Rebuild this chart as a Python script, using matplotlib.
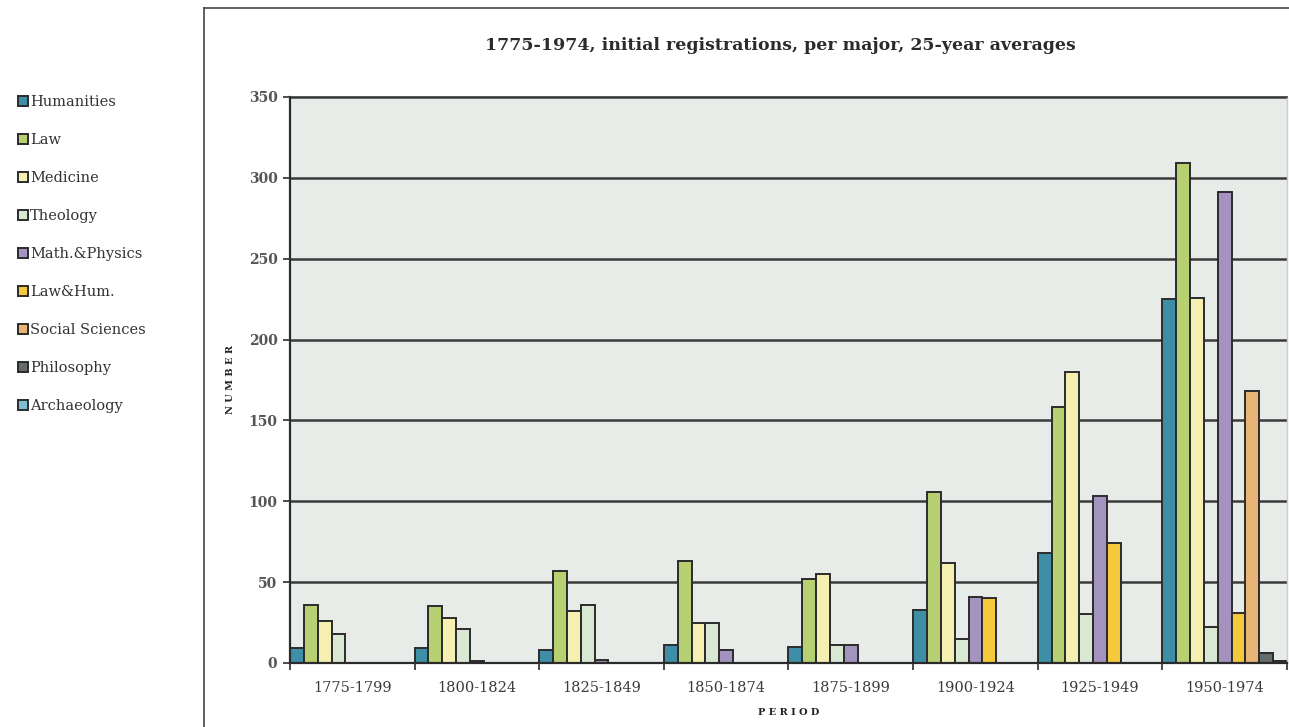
import numpy as np
import matplotlib.pyplot as plt
from matplotlib.lines import Line2D

periods = ["1775-1799", "1800-1824", "1825-1849", "1850-1874",
           "1875-1899", "1900-1924", "1925-1949", "1950-1974"]

majors = ["Humanities", "Law", "Medicine", "Theology", "Math.&Physics",
          "Law&Hum.", "Social Sciences", "Philosophy", "Archaeology"]

# 25-year averages, one list per major (0 = no bar)
humanities  = [9, 9, 8, 11, 10, 33, 68, 225]
law         = [36, 35, 57, 63, 52, 106, 158, 309]
medicine    = [26, 28, 32, 25, 55, 62, 180, 226]
theology    = [18, 21, 36, 25, 11, 15, 30, 22]
math_phys   = [0, 1, 2, 8, 11, 41, 103, 291]
law_hum     = [0, 0, 0, 0, 0, 40, 74, 31]
social_sci  = [0, 0, 0, 0, 0, 0, 0, 168]
philosophy  = [0, 0, 0, 0, 0, 0, 0, 6]
archaeology = [0, 0, 0, 0, 0, 0, 0, 1]

series = [humanities, law, medicine, theology, math_phys,
          law_hum, social_sci, philosophy, archaeology]
colors = ["#3f8ea8", "#b7d072", "#f6efb2", "#d9e8d3", "#a393be",
          "#f5c93c", "#e9b476", "#646c6c", "#7fbed3"]

SERIF = ["DejaVu Serif"]

fig = plt.figure(figsize=(12.89, 7.27), dpi=100)
ax = fig.add_axes([290 / 1289, 1 - 663 / 727, 997 / 1289, 566 / 727])
ax.set_facecolor("#e7ece9")
ax.set_axisbelow(True)

n = len(series)
w = 1.0 / n
x = np.arange(len(periods))
for j, (vals, col) in enumerate(zip(series, colors)):
    vals = np.array(vals, dtype=float)
    mask = vals > 0
    ax.bar(x[mask] + j * w, vals[mask], width=w, align="edge",
           color=col, edgecolor="#2b2b2b", linewidth=1.4, label=majors[j])

ax.set_xlim(0, len(periods))
ax.set_ylim(0, 350)
ax.set_yticks(np.arange(0, 351, 50))
ax.yaxis.grid(True, color="#3a3a3a", linewidth=1.8)

# category boundary ticks, labels centred in each category
ax.set_xticks(np.arange(0, len(periods) + 1), minor=False)
ax.set_xticklabels([])
ax.set_xticks(x + 0.5, minor=True)
ax.set_xticklabels(periods, minor=True, fontsize=10.5, family=SERIF, color="#3a3a3a")
ax.tick_params(axis="x", which="major", length=5, width=1.2, color="#2b2b2b")
ax.tick_params(axis="x", which="minor", length=0, pad=13)
ax.tick_params(axis="y", length=5, width=1.2, color="#2b2b2b", pad=4)
for lab in ax.get_yticklabels():
    lab.set_family(SERIF)
    lab.set_fontsize(10)
    lab.set_color("#555555")
    lab.set_fontweight("bold")

for s in ["left", "bottom"]:
    ax.spines[s].set_color("#2b2b2b")
    ax.spines[s].set_linewidth(1.6)
ax.spines["top"].set_color("#3a3a3a")
ax.spines["top"].set_linewidth(1.2)
ax.spines["right"].set_color("#cccccc")
ax.spines["right"].set_linewidth(1.0)

ax.set_ylabel("N U M B E R", fontsize=7, fontweight="bold", family=SERIF,
              color="#222222", labelpad=10)
ax.set_xlabel("P E R I O D", fontsize=7, fontweight="bold", family=SERIF,
              color="#222222", labelpad=9)

fig.text(780 / 1289, 1 - 45 / 727, "1775-1974, initial registrations, per major, 25-year averages",
         ha="center", va="center", fontsize=12.5, fontweight="bold",
         family=SERIF, color="#2b2b2b")

# outer chart frame (cropped at right and bottom)
fig.add_artist(Line2D([204 / 1289, 204 / 1289], [0, 1 - 8 / 727],
                      transform=fig.transFigure, color="#444444", linewidth=1.2))
fig.add_artist(Line2D([204 / 1289, 1], [1 - 8 / 727, 1 - 8 / 727],
                      transform=fig.transFigure, color="#444444", linewidth=1.2))

handles, labels = ax.get_legend_handles_labels()
leg = fig.legend(handles, labels, loc="upper left",
                 bbox_to_anchor=(5 / 1289, 1 - 82 / 727),
                 frameon=False, handlelength=0.7, handleheight=0.7,
                 handletextpad=0.12, labelspacing=1.645,
                 prop={"family": SERIF, "size": 10.5})
for t in leg.get_texts():
    t.set_color("#333333")

fig.savefig("out.png", dpi=100)
